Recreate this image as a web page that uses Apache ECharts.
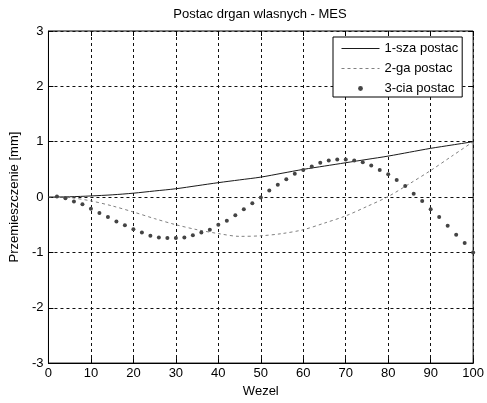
<!DOCTYPE html>
<html>
<head>
<meta charset="utf-8">
<script src="https://cdn.jsdelivr.net/npm/echarts@6/dist/echarts.min.js"></script>
<style>
html,body{margin:0;padding:0;background:#fff;}
#chart{width:487px;height:403px;}
</style>
</head>
<body>
<div id="chart"></div>
<script>
// ---- data ----
var titleText = 'Postac drgan wlasnych - MES';
var xName = 'Wezel';
var yName = 'Przemieszczenie [mm]';
var seriesNames = ['1-sza postac', '2-ga postac', '3-cia postac'];

var lineX = [0, 5, 10, 15, 20, 25, 30, 35, 40, 45, 50, 55, 60, 65, 70, 75, 80, 85, 90, 95, 100];
var mode1 = [0, 0.005, 0.02, 0.04, 0.07, 0.11, 0.15, 0.205, 0.26, 0.31, 0.36, 0.43, 0.50, 0.56, 0.62, 0.68, 0.74, 0.81, 0.88, 0.94, 1.0];
var mode2 = [0, -0.01, -0.07, -0.16, -0.27, -0.39, -0.50, -0.59, -0.66, -0.71, -0.70, -0.66, -0.59, -0.47, -0.34, -0.17, 0.01, 0.24, 0.48, 0.74, 1.0];

var dotX = [2, 4, 6, 8, 10, 12, 14, 16, 18, 20, 22, 24, 26, 28, 30, 32, 34, 36, 38, 40,
            42, 44, 46, 48, 50, 52, 54, 56, 58, 60, 62, 64, 66, 68, 70, 72, 74, 76, 78, 80,
            82, 84, 86, 88, 90, 92, 94, 96, 98, 100];
var mode3 = [0.01, -0.02, -0.08, -0.13, -0.21, -0.29, -0.36, -0.44, -0.51, -0.58,
             -0.64, -0.70, -0.73, -0.74, -0.74, -0.73, -0.69, -0.64, -0.59, -0.50,
             -0.43, -0.33, -0.22, -0.11, -0.01, 0.12, 0.22, 0.32, 0.42, 0.49,
             0.55, 0.62, 0.66, 0.68, 0.68, 0.66, 0.63, 0.57, 0.49, 0.41,
             0.31, 0.20, 0.06, -0.07, -0.22, -0.36, -0.52, -0.68, -0.83, -1.0];

function zip(xs, ys){ return xs.map(function(x,i){ return [x, ys[i]]; }); }

var FONT = 'Liberation Sans, Arial, sans-serif';
var FS = 13;
var chart = echarts.init(document.getElementById('chart'), null, {renderer:'canvas'});

var gridLine = {show:true, lineStyle:{color:'#111', type:[3,3], width:1}};
var tick = {show:true, inside:true, length:5, lineStyle:{color:'#000'}};

chart.setOption({
  animation:false,
  backgroundColor:'#fff',
  graphic:[{
    type:'text', x:260, y:14,
    style:{text:titleText, fill:'#000', font:FS+'px '+FONT, textAlign:'center', textVerticalAlign:'middle'}
  }],
  grid:{left:46, right:12, top:31, bottom:35, show:true, borderColor:'#000', borderWidth:1, backgroundColor:'#fff'},
  legend:{
    data:[
      {name:seriesNames[0], itemStyle:{opacity:0}, lineStyle:{width:1, color:'#1a1a1a'}},
      {name:seriesNames[1], itemStyle:{opacity:0}, lineStyle:{width:1, color:'#808080', type:[3,3]}},
      {name:seriesNames[2]}
    ],
    orient:'vertical',
    left:333, top:37,
    padding:[5,4,2,8],
    itemGap:7,
    itemWidth:38, itemHeight:6,
    backgroundColor:'#fff',
    borderColor:'#000', borderWidth:1, borderRadius:0,
    textStyle:{color:'#000', fontSize:FS, fontFamily:FONT}
  },
  xAxis:[{
    type:'value', min:0, max:100, interval:10,
    name:xName, nameLocation:'middle', nameGap:16,
    nameTextStyle:{color:'#000', fontSize:FS, fontFamily:FONT},
    axisLine:{show:true, onZero:false, lineStyle:{color:'#000'}},
    axisTick:tick,
    axisLabel:{color:'#000', fontSize:FS, fontFamily:FONT, margin:4},
    splitLine:gridLine
  },{
    type:'value', min:0, max:100, interval:10, position:'top',
    axisLine:{show:false, onZero:false}, axisTick:tick, axisLabel:{show:false}, splitLine:{show:false}
  }],
  yAxis:[{
    type:'value', min:-3, max:3, interval:1,
    name:yName, nameLocation:'middle', nameGap:26,
    nameTextStyle:{color:'#000', fontSize:FS, fontFamily:FONT},
    axisLine:{show:true, onZero:false, lineStyle:{color:'#000'}},
    axisTick:tick,
    axisLabel:{color:'#000', fontSize:FS, fontFamily:FONT, margin:5},
    splitLine:gridLine
  },{
    type:'value', min:-3, max:3, interval:1, position:'right',
    axisLine:{show:false, onZero:false}, axisTick:tick, axisLabel:{show:false}, splitLine:{show:false}
  }],
  series:[{
    name:seriesNames[0], type:'line', data:zip(lineX, mode1),
    symbol:'none', smooth:0.3,
    lineStyle:{color:'#1a1a1a', width:1},
    itemStyle:{color:'#1a1a1a'}
  },{
    name:seriesNames[1], type:'line', data:zip(lineX, mode2),
    symbol:'none', smooth:0.3,
    lineStyle:{color:'#808080', width:1, type:[3,3]},
    itemStyle:{color:'#808080'}
  },{
    name:seriesNames[2], type:'line', data:zip(dotX, mode3),
    symbol:'circle', symbolSize:4, showSymbol:true,
    lineStyle:{width:0, opacity:0},
    itemStyle:{color:'#444'}
  }]
});
</script>
</body>
</html>
